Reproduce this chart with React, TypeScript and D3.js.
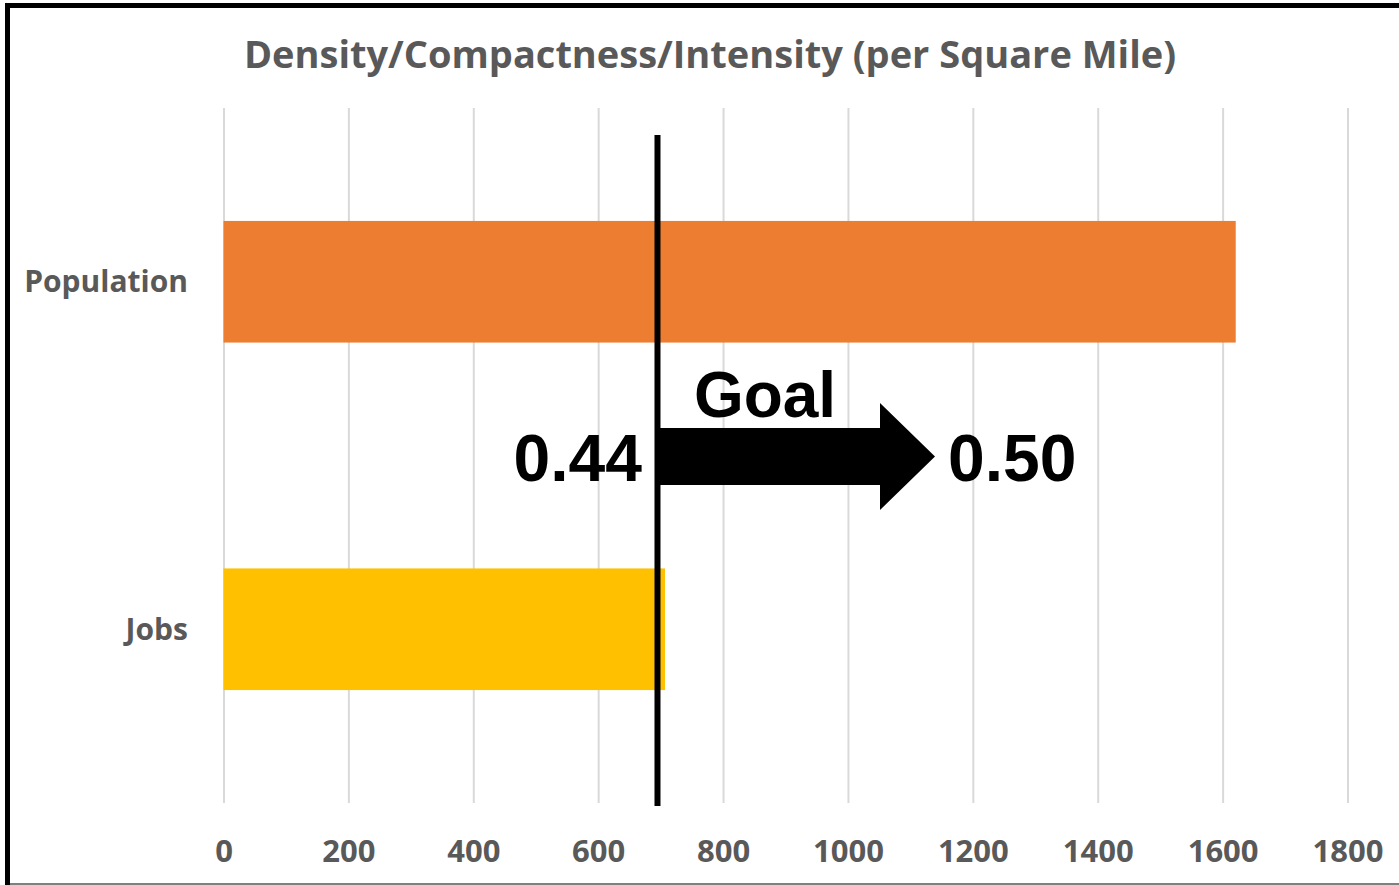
import { useEffect, useRef } from "react";
import * as d3 from "d3";

const categories = ["Population", "Jobs"];
const densityValues = [1621, 707];
const barColors = ["#ED7D31", "#FFC000"];
const xTicks = [0, 200, 400, 600, 800, 1000, 1200, 1400, 1600, 1800];
const goalLineValue = 695;
const goalFrom = "0.44";
const goalTo = "0.50";

const App = () => {
  const svgRef = useRef<SVGSVGElement | null>(null);

  useEffect(() => {
    const svg = d3.select(svgRef.current);
    svg.selectAll("*").remove();
    const width = 1399;
    const height = 885;

    svg.append("rect").attr("width", width).attr("height", height).attr("fill", "#fff");

    // frame: thick left/top edge, thin grey bottom
    svg.append("rect").attr("x", 5).attr("y", 3).attr("width", width - 5).attr("height", 5).attr("fill", "#000");
    svg.append("rect").attr("x", 5).attr("y", 3).attr("width", 5).attr("height", height - 3).attr("fill", "#000");
    svg.append("rect").attr("x", 10).attr("y", 883).attr("width", width - 10).attr("height", 2).attr("fill", "#7f7f7f");

    const plot = { left: 223.5, right: 1347.5, top: 108, bottom: 803 };

    const x = d3.scaleLinear().domain([0, 1800]).range([plot.left, plot.right]);
    const y = d3
      .scaleBand<string>()
      .domain(categories)
      .range([plot.top, plot.bottom])
      .paddingInner(0.65)
      .paddingOuter(0.325);

    svg
      .append("text")
      .attr("x", 710)
      .attr("y", 68)
      .attr("text-anchor", "middle")
      .attr("font-family", "'Open Sans', sans-serif")
      .attr("font-weight", 700)
      .attr("font-size", 38)
      .attr("fill", "#595959")
      .text("Density/Compactness/Intensity (per Square Mile)");

    const grid = d3
      .axisBottom(x)
      .tickValues(xTicks)
      .tickSize(-(plot.bottom - plot.top))
      .tickFormat(() => "");
    const gGrid = svg.append("g").attr("transform", `translate(0,${plot.bottom})`).call(grid);
    gGrid.select(".domain").remove();
    gGrid.selectAll(".tick line").attr("stroke", "#d9d9d9").attr("stroke-width", 2);

    const xAxis = d3
      .axisBottom(x)
      .tickValues(xTicks)
      .tickSize(0)
      .tickPadding(0)
      .tickFormat(d3.format("d"));
    const gx = svg.append("g").attr("transform", `translate(0,862)`).call(xAxis);
    gx.select(".domain").remove();
    gx.selectAll("text")
      .attr("dy", 0)
      .attr("font-family", "'Open Sans', sans-serif")
      .attr("font-weight", 700)
      .attr("font-size", 31)
      .attr("fill", "#595959");

    svg
      .append("g")
      .selectAll("rect")
      .data(categories)
      .join("rect")
      .attr("x", x(0))
      .attr("y", (d) => y(d) ?? 0)
      .attr("width", (_, i) => x(densityValues[i]) - x(0))
      .attr("height", y.bandwidth())
      .attr("fill", (_, i) => barColors[i]);

    svg
      .append("g")
      .selectAll("text")
      .data(categories)
      .join("text")
      .attr("x", 188)
      .attr("y", (d) => (y(d) ?? 0) + y.bandwidth() / 2)
      .attr("dy", "0.35em")
      .attr("text-anchor", "end")
      .attr("font-family", "'Open Sans', sans-serif")
      .attr("font-weight", 700)
      .attr("font-size", 30)
      .attr("fill", "#595959")
      .text((d) => d);

    // goal marker line
    const gx0 = x(goalLineValue);
    svg
      .append("line")
      .attr("x1", gx0)
      .attr("x2", gx0)
      .attr("y1", 135)
      .attr("y2", 806)
      .attr("stroke", "#000")
      .attr("stroke-width", 6);

    // arrow
    const shaftTop = 428;
    const shaftBot = 485;
    const headTop = 403;
    const headBot = 510;
    const headX = 880;
    const tipX = 935;
    const midY = (headTop + headBot) / 2;
    svg
      .append("path")
      .attr(
        "d",
        `M${gx0},${shaftTop}H${headX}V${headTop}L${tipX},${midY}L${headX},${headBot}V${shaftBot}H${gx0}Z`
      )
      .attr("fill", "#000");

    const bigFont = "'Liberation Sans', Arial, sans-serif";
    svg
      .append("text")
      .attr("x", 765)
      .attr("y", 417)
      .attr("text-anchor", "middle")
      .attr("font-family", bigFont)
      .attr("font-weight", 700)
      .attr("font-size", 64)
      .attr("fill", "#000")
      .text("Goal");

    svg
      .append("text")
      .attr("x", 642)
      .attr("y", 481)
      .attr("text-anchor", "end")
      .attr("font-family", bigFont)
      .attr("font-weight", 700)
      .attr("font-size", 66)
      .attr("fill", "#000")
      .text(goalFrom);

    svg
      .append("text")
      .attr("x", 948)
      .attr("y", 481)
      .attr("text-anchor", "start")
      .attr("font-family", bigFont)
      .attr("font-weight", 700)
      .attr("font-size", 66)
      .attr("fill", "#000")
      .text(goalTo);
  }, []);

  return (
    <svg
      ref={svgRef}
      role="img"
      aria-label="Density chart"
      width={1399}
      height={885}
      style={{ position: "absolute", left: 0, top: 0 }}
    />
  );
};

export default App;
